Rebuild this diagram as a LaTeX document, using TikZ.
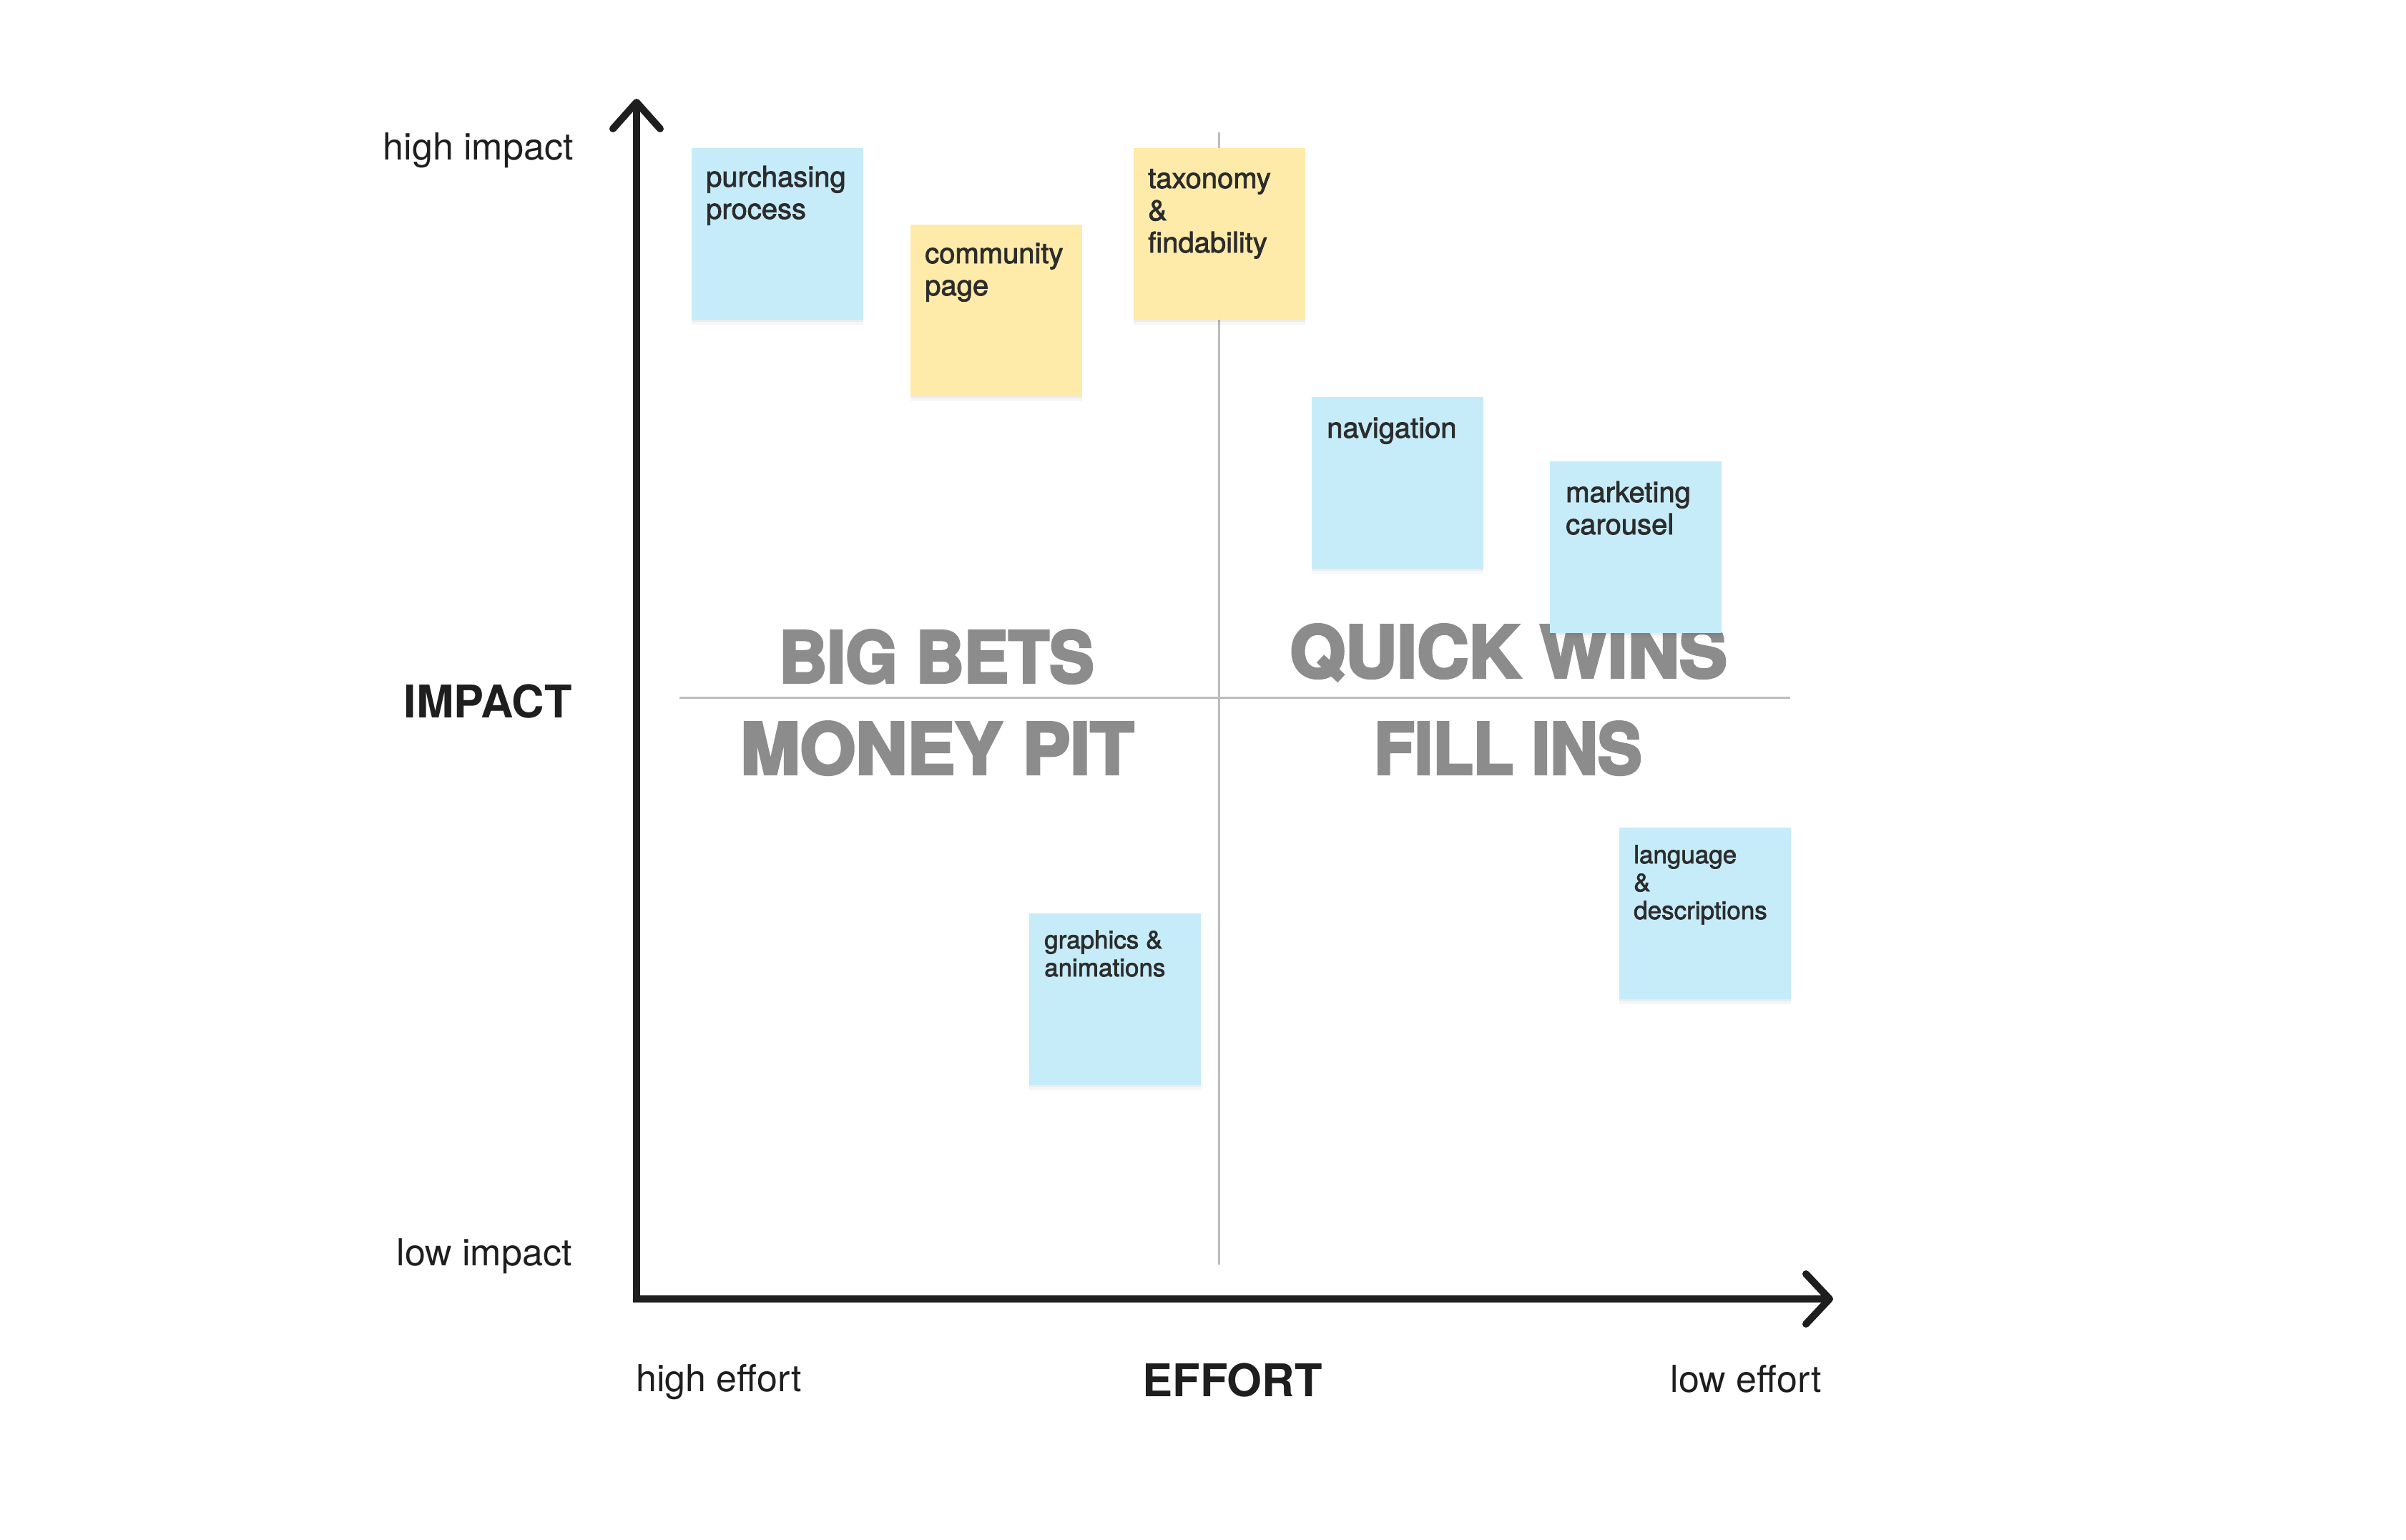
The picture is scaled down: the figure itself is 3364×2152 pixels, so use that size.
\documentclass[tikz,border=0pt]{standalone}
\usepackage{fontspec}
\usepackage{graphicx}
\setmainfont{TeX Gyre Heros}
\newfontfamily\stickyfont{TeX Gyre Heros}[FakeBold=2]
\newfontfamily\quadfont{TeX Gyre Heros}[BoldFeatures={FakeBold=4}]
\usetikzlibrary{shadows}

\definecolor{ink}{HTML}{1E1E1E}
\definecolor{stickyink}{HTML}{2C2C2C}
\definecolor{gridgrey}{HTML}{BDBDBD}
\definecolor{quadgrey}{HTML}{8C8C8C}
\definecolor{stickyblue}{HTML}{C6ECF9}
\definecolor{stickyyellow}{HTML}{FEEBAA}

\tikzset{
  axis/.style={draw=ink, line width=10pt},
  grid/.style={draw=gridgrey, line width=3pt},
  sticky/.style={minimum width=240pt, minimum height=240pt, inner sep=0pt,
    anchor=north west,
    general shadow={fill=black, opacity=0.035, shadow yshift=-7pt},
    general shadow={fill=black, opacity=0.04, shadow yshift=-3pt}},
  bluenote/.style={sticky, fill=stickyblue},
  yellownote/.style={sticky, fill=stickyyellow},
  % the base anchor of a multi-line note sits on its last line
  notetext/.style={text=stickyink, inner sep=0pt, anchor=base west, align=left,
    font=\stickyfont\fontsize{40}{45}\selectfont},
  smallnotetext/.style={notetext, font=\stickyfont\fontsize{35}{39}\selectfont},
  quad/.style={text=quadgrey, inner sep=0pt, anchor=base west,
    font=\quadfont\bfseries},
  axislabel/.style={text=ink, inner sep=0pt, font=\fontsize{52}{60}\selectfont},
  axistitle/.style={text=ink, inner sep=0pt, font=\fontsize{63}{72}\selectfont\bfseries}
}

\begin{document}
\begin{tikzpicture}[x=1pt, y=-1pt]
  \useasboundingbox (0,0) rectangle (3364,2152);
  \fill[white] (0,0) rectangle (3364,2152);

  % quadrant dividers
  \coordinate (vtop) at (1704,185);
  \coordinate (vbot) at (1704,1768);
  \coordinate (hleft) at (950,975);
  \coordinate (hright) at (2503,975);
  \draw[grid] (vtop) -- (vbot);
  \draw[grid] (hleft) -- (hright);

  % quadrant names
  \node[quad] (bigbets) at (1089,954) {\resizebox{440pt}{73pt}{BIG BETS}};
  \node[quad] (quickwins) at (1803,947) {\resizebox{611pt}{74pt}{QUICK WINS}};
  \node[quad] (moneypit) at (1035,1082) {\resizebox{550pt}{73pt}{MONEY PIT}};
  \node[quad] (fillins) at (1921,1082) {\resizebox{374pt}{73pt}{FILL INS}};

  % sticky notes
  \node[bluenote] (purchasing) at (967,207) {};
  \node[notetext] (purchasing-t) at ([xshift=20pt,yshift=-99pt]purchasing.north west) {purchasing\\process};

  \node[yellownote] (community) at (1273,314) {};
  \node[notetext] (community-t) at ([xshift=20pt,yshift=-99pt]community.north west) {community\\page};

  \node[yellownote] (taxonomy) at (1585,207) {};
  \node[notetext] (taxonomy-t) at ([xshift=20pt,yshift=-146pt]taxonomy.north west) {taxonomy\\\&\\findability};

  \node[bluenote] (navigation) at (1834,555) {};
  \node[notetext] (navigation-t) at ([xshift=21pt,yshift=-57pt]navigation.north west) {navigation};

  \node[bluenote] (marketing) at (2167,645) {};
  \node[notetext] (marketing-t) at ([xshift=22pt,yshift=-102pt]marketing.north west) {marketing\\carousel};

  \node[bluenote] (graphics) at (1439,1277) {};
  \node[smallnotetext] (graphics-t) at ([xshift=21pt,yshift=-88pt]graphics.north west) {graphics \&\\animations};

  \node[bluenote] (language) at (2264,1157) {};
  \node[smallnotetext] (language-t) at ([xshift=20pt,yshift=-128pt]language.north west) {language\\\&\\descriptions};

  % axes
  \coordinate (origin) at (890,1816);
  \coordinate (ytip) at (890,143);
  \coordinate (xtip) at (2558,1816);
  \draw[axis, line join=miter] (ytip) -- (origin) -- (xtip);
  \draw[axis, line cap=round, line join=round]
    ([shift={(-33,37)}]ytip) -- (ytip) -- ([shift={(33,37)}]ytip);
  \draw[axis, line cap=round, line join=round]
    ([shift={(-33,-35)}]xtip) -- (xtip) -- ([shift={(-33,35)}]xtip);

  % axis labels
  \node[axislabel, anchor=base east] (highimpact) at (802,223) {high impact};
  \node[axistitle, anchor=base east] (impact) at (800,1003) {IMPACT};
  \node[axislabel, anchor=base east] (lowimpact) at (800,1769) {low impact};
  \node[axislabel, anchor=base west] (higheffort) at (889,1945) {high effort};
  \node[axistitle, anchor=base] (effort) at (1723,1952) {EFFORT};
  \node[axislabel, anchor=base east] (loweffort) at (2547,1946) {low effort};
\end{tikzpicture}
\end{document}
